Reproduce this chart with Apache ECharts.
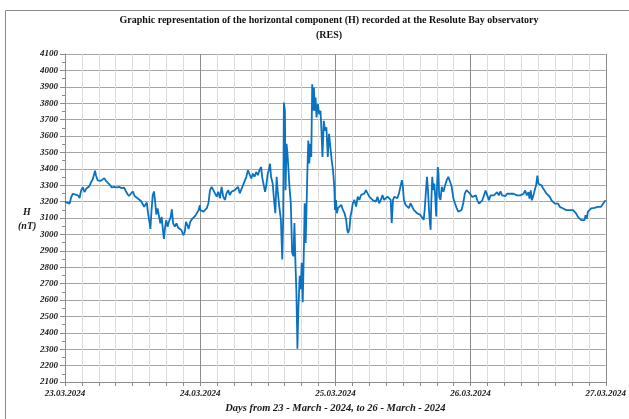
<!DOCTYPE html>
<html>
<head>
<meta charset="utf-8">
<script src="https://cdn.jsdelivr.net/npm/echarts@6/dist/echarts.min.js"></script>
<style>html,body{margin:0;padding:0;background:#fff}#c{width:629px;height:419px}</style>
</head>
<body>
<div id="c"></div>
<script>
// Tick labels for day boundaries (hours 0, 24, 48, 72, 96)
const dayLabels = ['23.03.2024', '24.03.2024', '25.03.2024', '26.03.2024', '27.03.2024'];
const titleLines = ['Graphic representation of the horizontal component (H) recorded at the Resolute Bay observatory', '(RES)'];
const xAxisTitle = 'Days from 23 - March - 2024, to 26 - March - 2024';
// [hours since 23.03.2024 00:00, H (nT)]
const day1 = [
 [0,3198],[0.35,3195],[0.82,3188],[1.11,3228],[1.4,3248],[1.87,3242],[2.28,3238],[2.58,3222],[2.87,3268],[3.16,3288],
 [3.45,3258],[3.75,3278],[4.04,3268],[4.33,3294],[4.63,3319],[4.92,3335],[5.33,3389],[5.5,3359],[5.8,3329],[6.09,3339],
 [6.38,3327],[6.67,3339],[6.97,3343],[7.26,3327],[7.55,3319],[7.84,3307],[8.31,3286],[8.72,3290],[9.19,3286],[9.6,3290],
 [10.07,3282],[10.48,3286],[10.77,3266],[11.06,3248],[11.36,3234],[11.65,3238],[12.06,3262],[12.35,3234],[12.7,3222],[13.11,3214],
 [13.52,3202],[13.81,3210],[14.05,3168],[14.28,3158],[14.52,3194],[14.75,3128],[14.99,3077],[15.16,3033],[15.34,3137],[15.57,3238],
 [15.8,3262],[15.98,3208],[16.21,3121],[16.45,3158],[16.68,3113],[16.92,3067],[17.15,3107],[17.39,3026],[17.56,2972],[17.74,3037],
 [17.97,3087],[18.2,3047],[18.44,3077],[18.73,3101],[18.97,3153],[19.2,3067],[19.49,3047],[19.79,3067],[20.08,3041],[20.37,3033],
 [20.66,3027],[21.02,2996],[21.25,3012],[21.48,3077],[21.72,3057],[21.95,3033],[22.24,3077],[22.54,3093],[22.83,3087],[23.12,3113],
 [23.42,3121],[23.71,3147],[23.94,3178]
];
const day2 = [
 [24.0,3149],[24.29,3160],[24.58,3139],[24.87,3149],[25.17,3160],[25.46,3190],[25.75,3270],[26.04,3290],[26.33,3270],[26.63,3250],
 [26.92,3230],[27.21,3260],[27.51,3220],[27.8,3290],[28.09,3230],[28.39,3210],[28.68,3250],[28.97,3270],[29.26,3240],[29.56,3260],
 [29.85,3250],[30.14,3270],[30.43,3260],[30.72,3290],[31.02,3250],[31.31,3260],[31.61,3300],[31.9,3310],[32.19,3351],[32.48,3391],
 [32.77,3401],[33.07,3341],[33.36,3371],[33.65,3351],[33.94,3381],[34.24,3361],[34.53,3391],[34.82,3411],[35.0,3351],[35.23,3310],
 [35.52,3260],[35.7,3290],[35.99,3371],[36.17,3391],[36.4,3431],[36.58,3351],[36.87,3310],[37.16,3190],[37.34,3129],[37.57,3351],
 [37.75,3270],[38.04,3170],[38.33,3089],[38.57,2847],[38.74,3109],[38.86,3804],[39.04,3754],[39.15,3270],[39.33,3552],[39.5,3492],
 [39.68,3391],[39.85,3290],[40.09,3190],[40.32,2888],[40.56,2867],[40.73,3069],[40.91,2827],[41.08,2646],[41.2,2424],[41.26,2303],
 [41.43,2545],[41.67,2747],[41.85,2666],[42.02,2827],[42.2,2586],[42.31,2747],[42.43,2948],[42.55,3190],[42.72,2948],[42.9,3190],
 [43.02,3371],[43.19,3572],[43.37,3432],[43.54,3552],[43.72,3472],[43.89,3915],[44.07,3754],[44.19,3895],[44.36,3754],[44.48,3834],
 [44.65,3713],[44.89,3794],[45.12,3733],[45.36,3754],[45.53,3633],[45.71,3472],[45.94,3693],[46.18,3633],[46.41,3653],[46.65,3472],
 [46.88,3613],[47.11,3532],[47.35,3451],[47.58,3391],[47.81,3290],[47.93,3149],[48.11,3210],[48.28,3129]
];
const day3 = [
 [48.46,3160],[48.75,3149],[49.04,3180],[49.34,3149],[49.63,3129],[49.92,3089],[50.1,3028],[50.27,3008],[50.51,3038],[50.68,3109],
 [50.92,3149],[51.09,3190],[51.38,3210],[51.68,3170],[51.97,3230],[52.26,3210],[52.55,3240],[52.85,3230],[53.14,3250],[53.43,3270],
 [53.72,3250],[54.02,3230],[54.31,3240],[54.6,3210],[54.9,3220],[55.19,3200],[55.48,3230],[55.77,3190],[56.07,3210],[56.36,3240],
 [56.65,3210],[56.94,3200],[57.24,3230],[57.53,3240],[57.82,3210],[58.0,3069],[58.23,3210],[58.47,3230],[58.7,3240],[59.0,3220],
 [59.29,3250],[59.58,3240],[59.81,3331],[59.99,3290],[60.16,3210],[60.46,3180],[60.75,3190],[61.04,3160],[61.33,3190],[61.63,3170],
 [61.92,3149],[62.21,3160],[62.51,3129],[62.8,3139],[63.09,3119],[63.38,3109],[63.68,3089],[63.85,3149],[64.09,3270],[64.26,3351],
 [64.44,3270],[64.62,3149],[64.79,3069],[64.91,3028],[65.02,3190],[65.2,3351],[65.38,3270],[65.55,3310],[65.73,3230],[65.9,3109],
 [66.02,3270],[66.19,3411],[66.31,3371],[66.43,3230],[66.66,3210],[66.89,3290],[67.18,3260],[67.48,3300],[67.77,3331],[68.06,3351],
 [68.3,3361],[68.47,3310],[68.65,3290],[68.94,3220],[69.23,3190],[69.53,3160],[69.82,3139],[70.11,3133],[70.4,3149],[70.7,3190],
 [70.99,3250],[71.28,3270],[71.57,3260],[71.87,3250]
];
const day4 = [
 [72.04,3248],[72.33,3228],[72.63,3218],[72.92,3238],[73.21,3208],[73.5,3188],[73.8,3188],[74.09,3208],[74.38,3238],[74.67,3268],
 [74.97,3238],[75.26,3208],[75.55,3238],[75.85,3248],[76.14,3238],[76.43,3248],[76.72,3258],[77.02,3238],[77.31,3262],[77.6,3238],
 [77.89,3248],[78.19,3234],[78.48,3248],[78.77,3238],[79.06,3248],[79.36,3242],[79.65,3248],[79.94,3258],[80.23,3238],[80.53,3228],
 [80.82,3238],[81.11,3228],[81.4,3248],[81.7,3268],[81.99,3238],[82.28,3258],[82.46,3218],[82.69,3268],[82.87,3208],[83.16,3238],
 [83.45,3278],[83.63,3298],[83.86,3359],[84.04,3309],[84.33,3319],[84.62,3298],[84.92,3278],[85.21,3268],[85.5,3248],[85.79,3238],
 [86.09,3228],[86.38,3208],[86.67,3198],[86.96,3188],[87.26,3178],[87.55,3188],[87.84,3168],[88.13,3178],[88.43,3158],[88.72,3168],
 [89.01,3148],[89.31,3158],[89.6,3148],[89.89,3158],[90.18,3148],[90.48,3137],[90.77,3127],[91.06,3107],[91.35,3097],[91.65,3087],
 [91.94,3097],[92.23,3087],[92.41,3117],[92.64,3097],[92.82,3137],[93.11,3148],[93.4,3158],[93.69,3158],[93.99,3162],[94.28,3168],
 [94.57,3168],[94.86,3178],[95.16,3168],[95.45,3178],[95.74,3198],[95.98,3208]
];
const series = day1.concat(day2, day3, day4);

const serif = '"Liberation Serif", "Times New Roman", serif';
const chart = echarts.init(document.getElementById('c'), null, {renderer: 'canvas'});
const xSplitColors = ['#8c8c8c', '#dcdcdc', '#dcdcdc', '#dcdcdc', '#dcdcdc', '#dcdcdc', '#dcdcdc', '#dcdcdc'];
chart.setOption({
  animation: false,
  backgroundColor: '#ffffff',
  title: {
    text: titleLines.join('\n'),
    left: 324, top: 8, textAlign: 'center',
    textStyle: {fontFamily: serif, fontWeight: 'bold', fontSize: 10, color: '#111111', lineHeight: 15}
  },
  graphic: [
    {type: 'rect', shape: {x: 5.5, y: 10.5, width: 660, height: 440}, style: {fill: 'none', stroke: '#8a8a8a', lineWidth: 1}, silent: true, z: -1},
    {type: 'text', left: 23, top: 207, style: {text: 'H', font: 'italic bold 10px ' + serif, fill: '#1a1a1a', textAlign: 'center'}},
    {type: 'text', left: 18, top: 221, style: {text: '(nT)', font: 'italic bold 10px ' + serif, fill: '#1a1a1a'}}
  ],
  grid: {left: 65, right: 17, top: 54, bottom: 34, containLabel: false},
  xAxis: {
    type: 'value', min: 0, max: 96, interval: 3,
    name: xAxisTitle, nameLocation: 'middle', nameGap: 21,
    nameTextStyle: {fontFamily: serif, fontStyle: 'italic', fontWeight: 'bold', fontSize: 10.5, color: '#1a1a1a'},
    axisLine: {show: true, lineStyle: {color: '#8c8c8c', width: 1}},
    axisTick: {show: true, length: 4, inside: false, lineStyle: {color: '#8c8c8c'}},
    axisLabel: {
      showMinLabel: true, showMaxLabel: true, margin: 7,
      fontFamily: serif, fontStyle: 'italic', fontWeight: 'bold', fontSize: 9, color: '#1a1a1a',
      formatter: function (v) { return v % 24 === 0 ? dayLabels[v / 24] : ''; }
    },
    splitLine: {show: true, lineStyle: {color: xSplitColors, width: 1}}
  },
  yAxis: {
    type: 'value', min: 2100, max: 4100, interval: 100,
    axisLine: {show: true, lineStyle: {color: '#8c8c8c', width: 1}},
    axisTick: {show: true, length: 5, lineStyle: {color: '#8c8c8c'}},
    minorTick: {show: true, splitNumber: 2, length: 3, lineStyle: {color: '#8c8c8c'}},
    axisLabel: {margin: 7, fontFamily: serif, fontStyle: 'italic', fontWeight: 'bold', fontSize: 9, color: '#1a1a1a',
      formatter: function (v) { return String(v); }},
    splitLine: {show: true, lineStyle: {color: '#a6a6a6', width: 1}}
  },
  series: [{
    type: 'line', data: series, showSymbol: false, symbol: 'none',
    lineStyle: {color: '#0a72c2', width: 1.8}, clip: true
  }]
});
</script>
</body>
</html>
